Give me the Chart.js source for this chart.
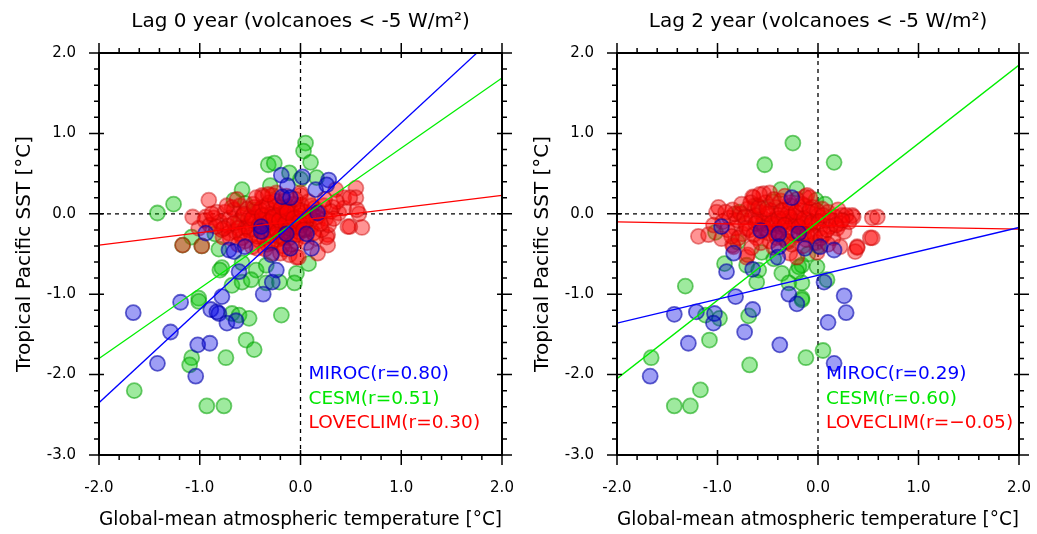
<!DOCTYPE html>
<html>
<head>
<meta charset="utf-8">
<script src="https://cdn.jsdelivr.net/npm/chart.js@4"></script>
<style>
  body { margin: 0; background: #fff; }
  #wrap { position: relative; width: 1037px; height: 534px; }
  canvas { position: absolute; top: 0; }
</style>
</head>
<body>
<div id="wrap">
  <canvas id="lag0" width="518" height="534" style="left:0"></canvas>
  <canvas id="lag2" width="519" height="534" style="left:518px"></canvas>
</div>
<script>
// ---- data ----
const xTitle = "Global-mean atmospheric temperature [°C]";
const yTitle = "Tropical Pacific SST [°C]";
const lag0Title = "Lag 0 year (volcanoes < -5 W/m²)";
const lag2Title = "Lag 2 year (volcanoes < -5 W/m²)";
const lag0Labels = ["MIROC(r=0.80)", "CESM(r=0.51)", "LOVECLIM(r=0.30)"];
const lag2Labels = ["MIROC(r=0.29)", "CESM(r=0.60)", "LOVECLIM(r=\u22120.05)"];

// regression lines, end points at x = -2 and x = 2
const lag0MirocFit = [[-2, -2.35], [2, 2.29]];
const lag0CesmFit = [[-2, -1.80], [2, 1.69]];
const lag0LoveFit = [[-2, -0.39], [2, 0.23]];
const lag2MirocFit = [[-2, -1.36], [2, -0.17]];
const lag2CesmFit = [[-2, -2.05], [2, 1.85]];
const lag2LoveFit = [[-2, -0.10], [2, -0.19]];

const lag0Miroc = [[-0.19,0.48],[0.02,0.46],[0.28,0.42],[0.26,0.36],[-0.13,0.35],[0.15,0.30],[-0.18,0.21],[-0.10,0.20],
  [0.17,0.01],[-0.39,-0.16],[-0.39,-0.22],[-0.14,-0.25],[0.06,-0.25],[-0.94,-0.24],[-0.71,-0.45],[-0.66,-0.47],
  [-0.55,-0.41],[-0.10,-0.43],[0.11,-0.43],[-0.29,-0.51],[-0.24,-0.70],[-0.61,-0.72],[-0.28,-0.85],[-0.37,-1.00],
  [-0.78,-1.03],[-1.19,-1.10],[-1.66,-1.23],[-0.89,-1.19],[-0.81,-1.24],[-0.83,-1.22],[-0.73,-1.36],[-0.64,-1.33],
  [-1.29,-1.47],[-1.02,-1.63],[-0.90,-1.61],[-1.42,-1.86],[-1.04,-2.02]];

const lag0Cesm = [[0.05,0.88],[0.03,0.78],[0.10,0.64],[-0.32,0.61],[-0.26,0.63],[-0.11,0.51],[0.16,0.45],[0.00,0.43],
  [-0.58,0.30],[-0.66,0.17],[-0.55,0.13],[-1.26,0.12],[-1.42,0.01],[-1.08,-0.29],[-1.17,-0.39],[-0.98,-0.40],
  [-0.81,-0.44],[-0.78,-0.67],[-0.80,-0.70],[-0.58,-0.61],[-0.44,-0.70],[-0.34,-0.64],[-0.04,-0.74],[0.08,-0.62],
  [-0.68,-0.89],[-0.58,-0.85],[-0.49,-0.82],[-0.34,-0.86],[-0.21,-0.85],[-0.06,-0.86],[-1.01,-1.05],[-1.01,-1.09],
  [-0.68,-1.24],[-0.61,-1.26],[-0.51,-1.30],[-0.19,-1.26],[-0.54,-1.57],[-0.46,-1.69],[-0.74,-1.79],[-1.08,-1.79],
  [-1.10,-1.88],[-1.65,-2.20],[-0.93,-2.39],[-0.76,-2.39],[-0.45,0.05],[-0.20,-0.30],[0.05,-0.20],[-0.60,-0.10],
  [-0.30,0.35],[-0.85,-0.25]];

const lag0Love = [[-1.01,-0.18],[-0.94,-0.04],[-0.86,-0.05],[-0.91,0.17],[-0.68,0.08],[-0.38,0.23],[-0.24,0.26],[0.00,0.23],
  [0.35,0.30],[0.43,0.20],[0.55,0.32],[0.55,0.20],[0.58,0.00],[0.61,-0.17],[0.49,-0.16],[0.27,-0.26],[0.27,-0.39],
  [0.38,0.01],[0.32,0.08],[0.43,0.07],[-0.04,-0.54],[-0.11,-0.51],[-0.28,-0.49],[-0.48,-0.41],[-0.54,-0.16],
  [-0.71,-0.24],[-0.78,-0.20],[-1.17,-0.39],[-0.98,-0.40],[-1.07,-0.04],[-0.95,-0.08],[-0.83,0.02],[-0.90,-0.14],
  [-0.77,-0.29],[-0.37,0.21],[-0.28,0.23],[0.00,0.26],[0.36,0.15],[0.49,0.20],[0.56,0.05],[0.47,-0.16],[0.26,-0.29],
  [0.17,-0.49],[-0.02,-0.54],[-0.20,-0.49],[-0.43,-0.43],
  [-0.80,-0.10],[-0.75,0.02],[-0.72,-0.15],[-0.70,-0.05],[-0.66,0.05],[-0.65,-0.22],[-0.62,-0.10],[-0.60,0.10],
  [-0.58,-0.30],[-0.57,-0.02],[-0.55,-0.18],[-0.53,0.06],[-0.50,-0.12],[-0.49,-0.26],[-0.47,0.12],[-0.46,-0.04],
  [-0.44,-0.20],[-0.42,0.02],[-0.41,-0.33],[-0.40,-0.10],[-0.38,0.08],[-0.37,-0.22],[-0.35,-0.02],[-0.34,-0.14],
  [-0.33,-0.38],[-0.31,0.14],[-0.30,-0.06],[-0.29,-0.27],[-0.28,0.04],[-0.27,-0.18],[-0.25,-0.09],[-0.24,0.10],
  [-0.23,-0.32],[-0.22,-0.02],[-0.21,-0.20],[-0.20,0.05],[-0.19,-0.12],[-0.18,-0.40],[-0.17,-0.06],[-0.16,0.16],
  [-0.15,-0.24],[-0.14,0.00],[-0.13,-0.15],[-0.12,0.09],[-0.11,-0.30],[-0.10,-0.08],[-0.09,0.03],[-0.08,-0.19],
  [-0.07,0.12],[-0.06,-0.04],[-0.05,-0.34],[-0.04,-0.12],[-0.03,0.06],[-0.02,-0.22],[0.00,-0.03],[0.01,0.11],
  [0.02,-0.14],[0.04,-0.28],[0.05,0.02],[0.07,-0.08],[0.08,0.15],[0.10,-0.18],[0.12,-0.02],[0.14,0.07],
  [0.15,-0.30],[0.17,-0.10],[0.19,0.02],[0.21,-0.20],[0.23,0.10],[0.25,-0.06],[0.28,-0.14],[0.30,0.03],
  [-0.45,-0.10],[-0.36,-0.08],[-0.26,-0.12],[-0.18,-0.03],[-0.09,-0.14],[-0.02,-0.06],[-0.32,-0.20],[-0.20,-0.28],
  [-0.12,-0.22],[-0.52,-0.06],[-0.62,-0.18],[-0.40,0.05],[-0.14,0.04],[0.05,-0.10],[-0.28,0.00],[-0.06,-0.16],
  [-0.70,-0.30],[-0.66,-0.12],[-0.60,-0.25],[-0.56,0.00],[-0.51,-0.20],[-0.48,-0.06],[-0.46,0.08],[-0.43,-0.28],
  [-0.41,-0.14],[-0.38,-0.02],[-0.36,-0.30],[-0.34,0.10],[-0.31,-0.10],[-0.29,-0.36],[-0.27,-0.04],[-0.25,0.16],
  [-0.23,-0.22],[-0.21,-0.08],[-0.19,0.08],[-0.17,-0.30],[-0.15,-0.12],[-0.13,0.02],[-0.11,-0.18],[-0.09,-0.38],
  [-0.07,-0.06],[-0.05,0.18],[-0.03,-0.26],[-0.01,-0.10],[0.01,0.04],[0.03,-0.20],[0.06,-0.36],[0.09,-0.02],
  [0.11,0.10],[0.13,-0.24],[0.16,-0.04],[0.20,-0.12],[-0.76,-0.18],[-0.84,-0.16],[-0.88,0.00],[-0.73,0.10],
  [-0.63,0.18],[-0.55,-0.34],[-0.44,0.20],[-0.32,0.24],[-0.14,0.22],[-0.16,-0.44],[-0.35,-0.44],[-0.62,-0.38],
  [0.24,0.18],[0.33,-0.06]];

const lag2Miroc = [[-0.26,0.20],[-0.96,-0.16],[-0.57,-0.21],[-0.39,-0.25],[-0.19,-0.24],[-0.39,-0.41],[-0.40,-0.54],
  [-0.13,-0.43],[0.02,-0.41],[0.16,-0.45],[-0.84,-0.49],[-0.91,-0.72],[-0.65,-0.69],[0.06,-0.85],[-0.29,-1.00],
  [-0.82,-1.03],[0.26,-1.02],[-0.21,-1.12],[-1.43,-1.25],[-1.21,-1.22],[-1.03,-1.24],[-1.04,-1.36],[-0.65,-1.19],
  [0.10,-1.35],[0.28,-1.23],[-1.29,-1.61],[-0.73,-1.47],[-0.38,-1.63],[0.16,-1.86],[-1.67,-2.02]];

const lag2Cesm = [[-0.25,0.88],[-0.53,0.61],[0.16,0.64],[-0.37,0.30],[-0.21,0.31],[-0.02,0.17],[0.07,0.12],[-0.78,0.02],
  [-1.02,-0.23],[-0.93,-0.62],[-0.71,-0.64],[-0.59,-0.70],[-0.61,-0.85],[-0.36,-0.74],[-0.19,-0.66],[-0.16,-0.64],
  [-0.21,-0.72],[-0.01,-0.66],[-0.29,-0.86],[-0.16,-0.86],[0.09,-0.82],[-0.56,-0.48],[-0.44,-0.56],[-1.32,-0.90],
  [-0.16,-1.05],[-0.16,-1.07],[-1.12,-1.26],[-0.98,-1.30],[-0.69,-1.27],[-1.08,-1.57],[-1.66,-1.79],[-0.68,-1.88],
  [-0.12,-1.79],[0.05,-1.70],[-1.17,-2.19],[-1.43,-2.39],[-1.27,-2.39],[-0.60,0.10],[-0.30,-0.35],[-0.80,-0.35],
  [0.00,-0.40],[-0.45,0.15],[-0.10,-0.50]];

const lag2Love = [[-0.99,0.08],[-1.01,0.02],[-1.19,-0.28],[-0.96,-0.31],[-0.64,0.20],[-0.54,0.25],[-0.48,0.26],[-0.13,0.21],
  [0.24,-0.02],[0.34,-0.02],[0.54,-0.05],[0.59,-0.04],[0.52,-0.30],[0.39,-0.41],[0.37,-0.47],[-0.71,-0.54],
  [-0.28,-0.49],[-0.01,-0.48],[0.19,-0.18],[-0.84,-0.41],[-0.65,0.21],[-0.11,0.23],[0.35,-0.04],[0.54,-0.30],
  [0.39,-0.42],[-0.70,-0.51],[-0.21,-0.54],[-1.09,-0.26],[-0.85,-0.39],[0.22,-0.41],
  [-0.88,-0.05],[-0.85,0.05],[-0.82,-0.18],[-0.80,-0.08],[-0.77,0.00],[-0.75,-0.25],[-0.72,-0.12],[-0.70,0.06],
  [-0.68,-0.20],[-0.66,-0.04],[-0.63,0.10],[-0.61,-0.30],[-0.60,-0.10],[-0.58,0.02],[-0.56,-0.22],[-0.54,-0.06],
  [-0.52,0.14],[-0.50,-0.15],[-0.48,-0.34],[-0.47,0.04],[-0.45,-0.08],[-0.43,-0.24],[-0.42,0.08],[-0.40,-0.02],
  [-0.38,-0.16],[-0.37,0.16],[-0.35,-0.30],[-0.34,-0.06],[-0.32,0.05],[-0.30,-0.20],[-0.29,-0.10],[-0.27,0.10],
  [-0.26,-0.38],[-0.24,-0.02],[-0.23,-0.14],[-0.21,0.18],[-0.20,-0.26],[-0.18,-0.06],[-0.17,0.04],[-0.15,-0.18],
  [-0.13,0.10],[-0.12,-0.32],[-0.10,-0.08],[-0.09,0.02],[-0.07,-0.22],[-0.05,0.08],[-0.04,-0.12],[-0.02,-0.36],
  [0.00,-0.02],[0.02,-0.18],[0.04,0.06],[0.06,-0.26],[0.08,-0.08],[0.10,0.02],[0.12,-0.16],[0.15,-0.30],
  [0.17,-0.04],[0.20,0.05],[0.22,-0.12],[0.26,-0.22],[0.28,-0.02],[0.31,-0.10],
  [-0.55,-0.12],[-0.44,-0.14],[-0.36,-0.10],[-0.28,-0.04],[-0.22,-0.10],[-0.16,-0.12],[-0.08,-0.14],[-0.30,0.00],
  [-0.40,-0.22],[-0.62,-0.02],[-0.14,-0.24],[-0.50,0.00],
  [-0.90,-0.20],[-0.86,-0.28],[-0.83,0.00],[-0.79,-0.30],[-0.76,0.12],[-0.73,-0.04],[-0.71,-0.18],[-0.67,0.14],
  [-0.64,-0.26],[-0.62,-0.12],[-0.59,0.08],[-0.57,-0.36],[-0.53,-0.18],[-0.51,0.06],[-0.49,-0.24],[-0.46,-0.12],
  [-0.44,0.18],[-0.41,-0.30],[-0.39,-0.06],[-0.36,0.04],[-0.33,-0.14],[-0.31,-0.34],[-0.28,0.14],[-0.25,-0.24],
  [-0.22,0.02],[-0.19,-0.16],[-0.16,0.12],[-0.14,-0.06],[-0.11,-0.26],[-0.08,0.06],[-0.06,-0.10],[-0.03,-0.28],
  [-0.01,0.04],[0.01,-0.10],[0.03,-0.30],[0.05,-0.02],[0.09,-0.20],[0.13,-0.08],[0.18,-0.14],[0.24,-0.08],
  [-0.95,-0.10],[-0.92,0.02],[-1.04,-0.14],[-0.58,0.24],[-0.33,0.22],[-0.08,0.20],[-0.44,-0.42],[-0.15,-0.40],
  [0.10,-0.38],[-0.66,-0.42]];

const FONT = "'DejaVu Sans', sans-serif";
Chart.defaults.color = "#000";
Chart.defaults.font.family = FONT;

const toXY = arr => arr.map(p => ({ x: p[0], y: p[1] }));

function fitLine(data, color) {
    return { data: toXY(data), showLine: true, borderColor: color, borderWidth: 1.3, pointRadius: 0, clip: 0 };
}

function dots(data, fill, edge) {
    return { data: toXY(data), backgroundColor: fill, borderColor: edge, borderWidth: 1.8, pointRadius: 7.5 };
}

// frame, ticks, zero lines and the r= labels
const framePlugin = {
    id: "frame",
    beforeDatasetsDraw(chart) {
        const { ctx, chartArea: a, scales: { x, y } } = chart;
        const x0 = x.getPixelForValue(0), y0 = y.getPixelForValue(0);
        ctx.save();
        ctx.strokeStyle = "#000";
        ctx.lineWidth = 1.3;
        ctx.setLineDash([4, 4]);
        ctx.beginPath();
        ctx.moveTo(x0, a.top); ctx.lineTo(x0, a.bottom);
        ctx.moveTo(a.left, y0); ctx.lineTo(a.right, y0);
        ctx.stroke();
        ctx.restore();
    },
    afterDraw(chart, args, opts) {
        const { ctx, chartArea: a, scales: { x, y } } = chart;
        ctx.save();
        ctx.strokeStyle = "#000";
        ctx.lineWidth = 1.5;
        ctx.beginPath();
        for (let k = -10; k <= 10; k++) {
            const px = x.getPixelForValue(k / 5);
            const major = k % 5 === 0;
            const out = major ? 10 : 5, inn = major ? 5 : 0;
            ctx.moveTo(px, a.bottom - inn); ctx.lineTo(px, a.bottom + out);
            ctx.moveTo(px, a.top + inn); ctx.lineTo(px, a.top - out);
        }
        for (let k = -15; k <= 10; k++) {
            const py = y.getPixelForValue(k / 5);
            const major = k % 5 === 0;
            const out = major ? 10 : 5, inn = major ? 5 : 0;
            ctx.moveTo(a.left + inn, py); ctx.lineTo(a.left - out, py);
            ctx.moveTo(a.right - inn, py); ctx.lineTo(a.right + out, py);
        }
        ctx.stroke();
        ctx.lineWidth = 2;
        ctx.strokeRect(a.left, a.top, a.right - a.left, a.bottom - a.top);

        const colors = ["#0000ff", "#00e600", "#ff0000"];
        const rows = [-2.0, -2.3, -2.6];
        ctx.font = "18.5px " + FONT;
        ctx.textAlign = "left";
        ctx.textBaseline = "middle";
        opts.labels.forEach((t, i) => {
            ctx.fillStyle = colors[i];
            ctx.fillText(t, x.getPixelForValue(0) + 8, y.getPixelForValue(rows[i]));
        });
        ctx.restore();
    }
};

function makeChart(id, title, labels, miroc, cesm, love, mFit, cFit, lFit, rightPad) {
    new Chart(document.getElementById(id), {
        type: "scatter",
        data: {
            datasets: [
                fitLine(mFit, "#0000ff"),
                fitLine(cFit, "#00ee00"),
                fitLine(lFit, "#ff0000"),
                dots(miroc, "rgba(0,0,230,0.38)", "rgba(0,0,170,0.6)"),
                dots(love, "rgba(255,0,0,0.42)", "rgba(200,0,0,0.45)"),
                dots(cesm, "rgba(0,200,0,0.38)", "rgba(0,160,0,0.55)")
            ]
        },
        options: {
            responsive: false,
            devicePixelRatio: 1,
            animation: false,
            layout: { autoPadding: false, padding: { left: 0, right: rightPad, top: 0, bottom: 0 } },
            plugins: {
                legend: { display: false },
                tooltip: { enabled: false },
                title: {
                    display: true, text: title, fullSize: false, color: "#000",
                    font: { family: FONT, size: 20, weight: "normal" },
                    padding: { top: 10, bottom: 19 }
                },
                frame: { labels }
            },
            scales: {
                x: {
                    type: "linear", min: -2, max: 2,
                    // tick marks themselves are drawn by the frame plugin; tickLength only spaces the labels
                    grid: { display: false, drawTicks: true, tickLength: 24 },
                    border: { display: false },
                    ticks: { stepSize: 1, padding: 0, maxRotation: 0, font: { size: 15 }, callback: v => v.toFixed(1) },
                    title: { display: true, text: xTitle, font: { size: 19.5 }, padding: { top: 0, bottom: 2 } },
                    afterFit: s => { s.height = 79; }
                },
                y: {
                    type: "linear", min: -3, max: 2,
                    grid: { display: false, drawTicks: false },
                    border: { display: false },
                    ticks: { stepSize: 1, padding: 23, font: { size: 15 }, callback: v => v.toFixed(1) },
                    title: { display: true, text: yTitle, font: { size: 20 }, padding: { top: 13, bottom: 0 } },
                    afterFit: s => { s.width = 99; }
                }
            }
        },
        plugins: [framePlugin]
    });
}

makeChart("lag0", lag0Title, lag0Labels, lag0Miroc, lag0Cesm, lag0Love, lag0MirocFit, lag0CesmFit, lag0LoveFit, 16);
makeChart("lag2", lag2Title, lag2Labels, lag2Miroc, lag2Cesm, lag2Love, lag2MirocFit, lag2CesmFit, lag2LoveFit, 18);
</script>
</body>
</html>
